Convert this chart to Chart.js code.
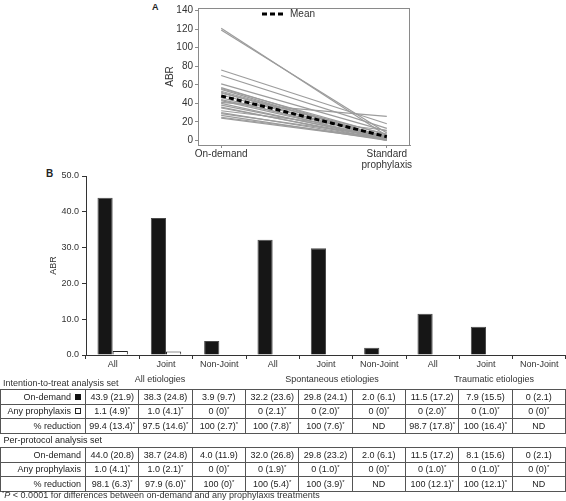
<!DOCTYPE html>
<html><head><meta charset="utf-8">
<script src="https://cdn.jsdelivr.net/npm/chart.js@4.4.1/dist/chart.umd.min.js"></script>
<style>
html,body{margin:0;padding:0;background:#fff}
body{width:566px;height:501px;position:relative;overflow:hidden;font-family:"Liberation Sans",Arial,sans-serif;color:#222}
.abs{position:absolute;white-space:nowrap}
#wrapA{position:absolute;left:140px;top:0;width:290px;height:170px}
#wrapB{position:absolute;left:0;top:165px;width:566px;height:210px}
table{position:absolute;left:0;top:389px;border-collapse:collapse;table-layout:fixed;font-size:9px;width:565px}
td{border:1px solid #555;height:13.5px;padding:0;text-align:center;white-space:nowrap;line-height:12px;overflow:hidden}
td.lab{text-align:right;padding-right:4px}
td.sec{text-align:left;padding-left:3px;border-left:none;border-right:none}
sup{font-size:6px;vertical-align:3px;line-height:0}
.sq{display:inline-block;width:6px;height:6px;margin-left:4px;vertical-align:0px;box-sizing:border-box}
</style></head>
<body>
<script>
// ---------- Panel A data ----------
const xLabelsA = ['On-demand', ['Standard', 'prophylaxis']];
const onDemandPatients    = [121, 119, 76, 70, 61, 57, 56, 55, 53, 52, 51, 49, 46, 44, 43, 41, 40, 38, 36, 35, 32, 30, 29, 27, 25, 24];
const prophylaxisPatients = [  5,   8, 18, 13, 10,  3,  6,  2,  4,  1,  7,  3,  0,  5,  2, 26,  1,  3,  0,  2, 11,  1,  4,  0,  2,  1];
const meanABR = [48, 4];
const yTicksA = [0, 20, 40, 60, 80, 100, 120, 140];

// ---------- Panel B data ----------
const categoriesB = ['All', 'Joint', 'Non-Joint', 'All', 'Joint', 'Non-Joint', 'All', 'Joint', 'Non-Joint'];
const groupsB = ['All etiologies', 'Spontaneous etiologies', 'Traumatic etiologies'];
const onDemandABR    = [43.9, 38.3, 3.9, 32.2, 29.8, 2.0, 11.5, 7.9, 0];
const prophylaxisABR = [1.1, 1.0, 0, 0, 0, 0, 0, 0, 0];
const yTicksB = [0, 10, 20, 30, 40, 50];

// ---------- Table data ----------
const ittOnDemand    = ['43.9 (21.9)', '38.3 (24.8)', '3.9 (9.7)', '32.2 (23.6)', '29.8 (24.1)', '2.0 (6.1)', '11.5 (17.2)', '7.9 (15.5)', '0 (2.1)'];
const ittProphylaxis = ['1.1 (4.9)*', '1.0 (4.1)*', '0 (0)*', '0 (2.1)*', '0 (2.0)*', '0 (0)*', '0 (2.0)*', '0 (1.0)*', '0 (0)*'];
const ittReduction   = ['99.4 (13.4)*', '97.5 (14.6)*', '100 (2.7)*', '100 (7.8)*', '100 (7.6)*', 'ND', '98.7 (17.8)*', '100 (16.4)*', 'ND'];
const ppOnDemand     = ['44.0 (20.8)', '38.7 (24.8)', '4.0 (11.9)', '32.0 (26.8)', '29.8 (23.2)', '2.0 (6.1)', '11.5 (17.2)', '8.1 (15.6)', '0 (2.1)'];
const ppProphylaxis  = ['1.0 (4.1)*', '1.0 (2.1)*', '0 (0)*', '0 (1.9)*', '0 (1.0)*', '0 (0)*', '0 (1.0)*', '0 (1.0)*', '0 (0)*'];
const ppReduction    = ['98.1 (6.3)*', '97.9 (6.0)*', '100 (0)*', '100 (5.4)*', '100 (3.9)*', 'ND', '100 (12.1)*', '100 (12.1)*', 'ND'];
</script>

<div class="abs" style="left:152px;top:2px;font-size:9px;font-weight:bold">A</div>
<div id="wrapA"><canvas id="cA"></canvas></div>
<svg class="abs" style="left:262px;top:11px" width="24" height="6"><line x1="0" y1="3" x2="22" y2="3" stroke="#000" stroke-width="3" stroke-dasharray="5,3"/></svg>
<div class="abs" style="left:290px;top:8px;font-size:10px;color:#333">Mean</div>

<div class="abs" style="left:46px;top:168px;font-size:10px;font-weight:bold">B</div>
<div id="wrapB"><canvas id="cB"></canvas></div>

<div class="abs" style="left:3px;top:378px;font-size:9px;color:#333">Intention-to-treat analysis set</div>
<div id="groups"></div>
<table id="tbl"></table>
<div class="abs" style="left:2px;top:490px;font-size:9px;color:#333"><sup>*</sup><i>P</i> &lt; 0.0001 for differences between on-demand and any prophylaxis treatments</div>

<script>
Chart.defaults.font.family = '"Liberation Sans", Arial, sans-serif';
Chart.defaults.animation = false;

const frame = {
  id: 'frame',
  afterDatasetsDraw(chart) {
    const {ctx, chartArea: a} = chart;
    ctx.save();
    ctx.strokeStyle = '#8a8a8a';
    ctx.lineWidth = 1;
    ctx.strokeRect(Math.round(a.left) + 0.5, Math.round(a.top) + 0.5, Math.round(a.right - a.left) - 1, Math.round(a.bottom - a.top));
    ctx.restore();
  }
};

// ---------- Panel A ----------
const dsA = [{
  data: [{x: 0, y: meanABR[0]}, {x: 1, y: meanABR[1]}],
  borderColor: '#000', borderWidth: 3, borderDash: [5, 3], pointRadius: 0
}].concat(onDemandPatients.map((v, i) => ({
  data: [{x: 0, y: v}, {x: 1, y: prophylaxisPatients[i]}],
  borderColor: '#9c9c9c', borderWidth: 1.2, pointRadius: 0
})));

new Chart(document.getElementById('cA'), {
  type: 'line',
  data: {datasets: dsA},
  plugins: [frame],
  options: {
    responsive: true, maintainAspectRatio: false, devicePixelRatio: 1,
    layout: {padding: {top: 4, right: 20, left: 0, bottom: 0}},
    plugins: {legend: {display: false}, tooltip: {enabled: false}},
    scales: {
      x: {
        type: 'linear', min: -0.14, max: 1.14,
        afterBuildTicks: s => { s.ticks = [{value: 0}, {value: 1}]; },
        afterFit: s => { s.height = 25; },
        ticks: {callback: v => xLabelsA[v], font: {size: 10, lineHeight: 1.15}, color: '#333', padding: 0, maxRotation: 0, autoSkip: false},
        grid: {display: true, drawOnChartArea: false, tickLength: 3, color: '#8a8a8a'},
        border: {color: '#8a8a8a'}
      },
      y: {
        min: -4.9, max: 142.8,
        afterFit: s => { s.width = 58; },
        ticks: {stepSize: 10, includeBounds: false, callback: v => yTicksA.includes(v) ? String(v) : '', font: {size: 10}, color: '#333', padding: 2},
        grid: {display: true, drawOnChartArea: false, tickLength: 3, color: '#8a8a8a'},
        border: {color: '#8a8a8a'},
        title: {display: true, text: 'ABR', font: {size: 10}, color: '#333', padding: {top: 24, bottom: 0}}
      }
    }
  }
});

// ---------- Panel B ----------
new Chart(document.getElementById('cB'), {
  type: 'bar',
  data: {
    labels: categoriesB,
    datasets: [
      {label: 'On-demand', data: onDemandABR, backgroundColor: '#161616', borderColor: '#4a4a4a',
       borderWidth: c => c.raw > 0 ? 1 : 0, categoryPercentage: 0.57, barPercentage: 1},
      {label: 'Any prophylaxis', data: prophylaxisABR, backgroundColor: '#fff', borderColor: '#222',
       borderWidth: c => c.raw > 0 ? 1 : 0, categoryPercentage: 0.57, barPercentage: 1}
    ]
  },
  options: {
    responsive: true, maintainAspectRatio: false, devicePixelRatio: 1,
    layout: {padding: {top: 11, right: 0, left: 0, bottom: 0}},
    plugins: {legend: {display: false}, tooltip: {enabled: false}},
    scales: {
      x: {
        offset: true,
        afterFit: s => { s.height = 20; },
        ticks: {font: {size: 9}, color: '#333', padding: 0, maxRotation: 0, autoSkip: false},
        grid: {display: true, drawOnChartArea: false, offset: true, tickLength: 4, color: '#333'},
        border: {color: '#333'}
      },
      y: {
        min: 0, max: 50,
        afterFit: s => { s.width = 86; },
        ticks: {stepSize: 10, callback: v => yTicksB.includes(v) ? v.toFixed(1) : '', font: {size: 9}, color: '#333', padding: 3},
        grid: {display: true, drawOnChartArea: false, tickLength: 4, color: '#333'},
        border: {color: '#333'},
        title: {display: true, text: 'ABR', font: {size: 9}, color: '#333', padding: {top: 48, bottom: 0}}
      }
    }
  }
});

// ---------- Group headings ----------
const groupCenters = [160, 332, 494];
document.getElementById('groups').innerHTML = groupsB.map((g, i) =>
  `<div class="abs" style="left:${groupCenters[i] - 100}px;width:200px;text-align:center;top:374px;font-size:9px;color:#333">${g}</div>`).join('');

// ---------- Table ----------
const fmt = s => s.endsWith('*') ? s.slice(0, -1) + '<sup>*</sup>' : s;
const row = (label, vals) => `<tr><td class="lab">${label}</td>${vals.map(v => `<td>${fmt(v)}</td>`).join('')}</tr>`;
const sqB = '<span class="sq" style="background:#111"></span>';
const sqW = '<span class="sq" style="border:1px solid #222;background:#fff"></span>';
let html = '<colgroup><col style="width:85px">' + categoriesB.map(() => '<col style="width:53.33px">').join('') + '</colgroup>';
html += row('On-demand' + sqB, ittOnDemand);
html += row('Any prophylaxis' + sqW, ittProphylaxis);
html += row('% reduction', ittReduction);
html += '<tr><td class="sec" colspan="10">Per-protocol analysis set</td></tr>';
html += row('On-demand', ppOnDemand);
html += row('Any prophylaxis', ppProphylaxis);
html += row('% reduction', ppReduction);
document.getElementById('tbl').innerHTML = html;
</script>
</body></html>
